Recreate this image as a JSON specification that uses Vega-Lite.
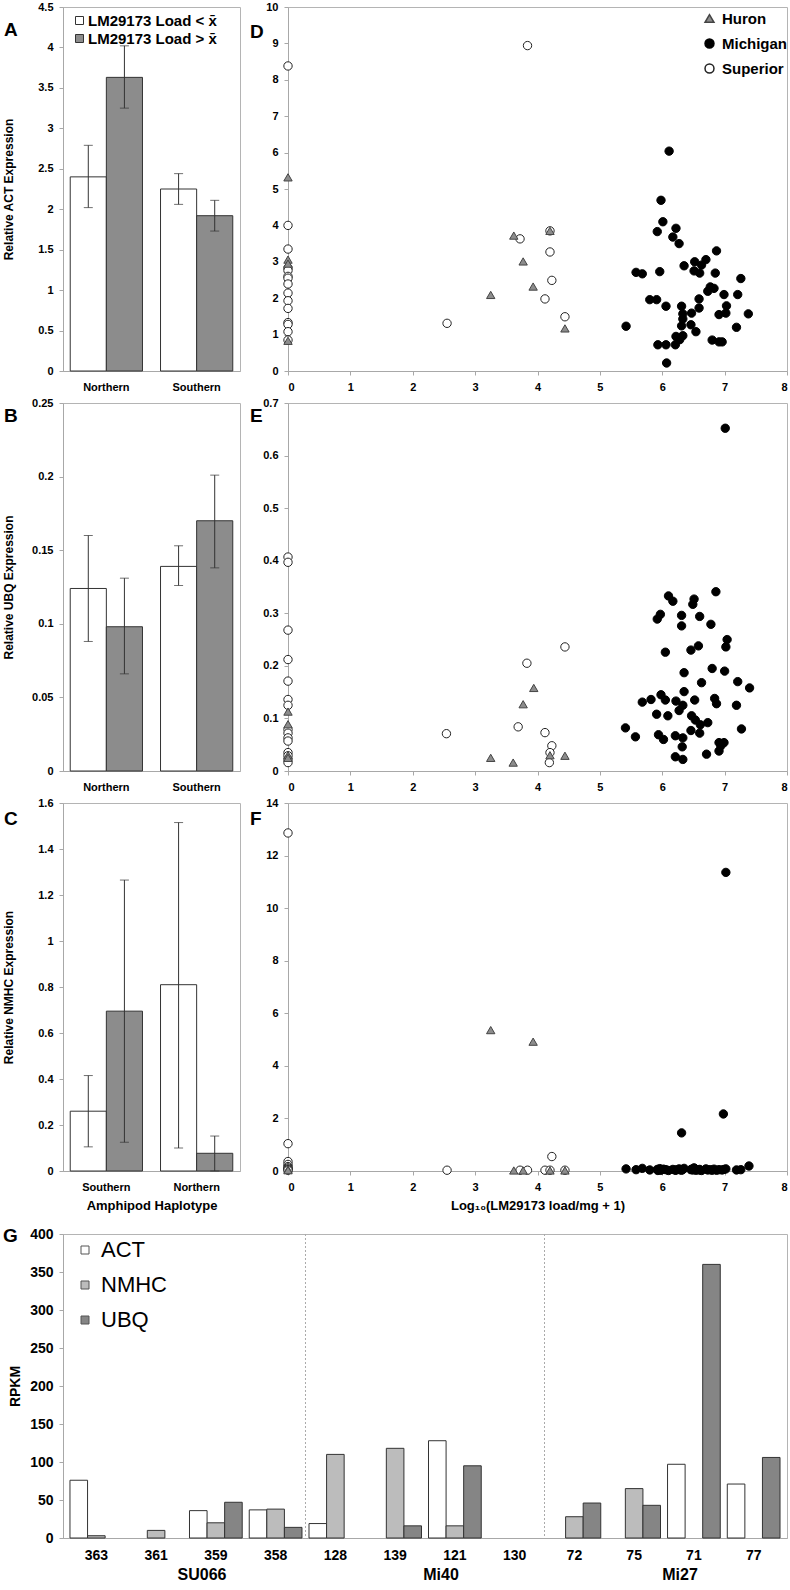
{
  "$schema": "https://vega.github.io/schema/vega-lite/v6.json",
  "background": "white",
  "padding": {"left": 2, "top": 0, "right": 0, "bottom": 0},
  "config": {
    "font": "Liberation Sans",
    "view": {"stroke": "#b4b4b4", "strokeWidth": 1},
    "axis": {"labelFont": "Liberation Sans", "labelFontWeight": "bold", "labelFontSize": 11, "labelColor": "#000", "domainColor": "#a8a8a8", "tickColor": "#a8a8a8", "tickSize": 4, "labelPadding": 6, "grid": false, "titleFont": "Liberation Sans", "titleFontWeight": "bold", "titleFontSize": 12, "titleColor": "#000"},
    "legend": {"labelFont": "Liberation Sans", "labelColor": "#000"},
    "title": {"anchor": "start", "frame": "group", "orient": "top", "offset": 0, "fontSize": 19, "fontWeight": "bold", "font": "Liberation Sans", "baseline": "alphabetic", "color": "#000"}
  },
  "datasets": {
    "bars": [
      {"panel": "A", "hap": "Northern", "load": "lt", "value": 2.40, "lo": 2.02, "hi": 2.79},
      {"panel": "A", "hap": "Northern", "load": "gt", "value": 3.63, "lo": 3.25, "hi": 4.02},
      {"panel": "A", "hap": "Southern", "load": "lt", "value": 2.25, "lo": 2.06, "hi": 2.44},
      {"panel": "A", "hap": "Southern", "load": "gt", "value": 1.92, "lo": 1.73, "hi": 2.11},
      {"panel": "B", "hap": "Northern", "load": "lt", "value": 0.124, "lo": 0.088, "hi": 0.160},
      {"panel": "B", "hap": "Northern", "load": "gt", "value": 0.098, "lo": 0.066, "hi": 0.131},
      {"panel": "B", "hap": "Southern", "load": "lt", "value": 0.139, "lo": 0.126, "hi": 0.153},
      {"panel": "B", "hap": "Southern", "load": "gt", "value": 0.170, "lo": 0.138, "hi": 0.201},
      {"panel": "C", "hap": "Southern", "load": "lt", "value": 0.26, "lo": 0.105, "hi": 0.415},
      {"panel": "C", "hap": "Southern", "load": "gt", "value": 0.695, "lo": 0.125, "hi": 1.265},
      {"panel": "C", "hap": "Northern", "load": "lt", "value": 0.81, "lo": 0.10, "hi": 1.515},
      {"panel": "C", "hap": "Northern", "load": "gt", "value": 0.077, "lo": 0.0, "hi": 0.152}
    ],
    "pts": [
      {"panel": "D", "lake": "Michigan", "x": 6.11, "y": 6.04}, {"panel": "D", "lake": "Michigan", "x": 5.98, "y": 4.69}, {"panel": "D", "lake": "Michigan", "x": 6.01, "y": 4.10}, {"panel": "D", "lake": "Michigan", "x": 5.92, "y": 3.83}, {"panel": "D", "lake": "Michigan", "x": 6.22, "y": 3.92}, {"panel": "D", "lake": "Michigan", "x": 6.17, "y": 3.68}, {"panel": "D", "lake": "Michigan", "x": 6.27, "y": 3.50}, {"panel": "D", "lake": "Michigan", "x": 6.87, "y": 3.30}, {"panel": "D", "lake": "Michigan", "x": 6.70, "y": 3.06}, {"panel": "D", "lake": "Michigan", "x": 6.52, "y": 3.00}, {"panel": "D", "lake": "Michigan", "x": 6.63, "y": 2.91}, {"panel": "D", "lake": "Michigan", "x": 6.35, "y": 2.89}, {"panel": "D", "lake": "Michigan", "x": 6.51, "y": 2.75}, {"panel": "D", "lake": "Michigan", "x": 6.60, "y": 2.69}, {"panel": "D", "lake": "Michigan", "x": 6.85, "y": 2.69}, {"panel": "D", "lake": "Michigan", "x": 5.58, "y": 2.71}, {"panel": "D", "lake": "Michigan", "x": 5.68, "y": 2.67}, {"panel": "D", "lake": "Michigan", "x": 5.96, "y": 2.73}, {"panel": "D", "lake": "Michigan", "x": 7.26, "y": 2.54}, {"panel": "D", "lake": "Michigan", "x": 6.77, "y": 2.31}, {"panel": "D", "lake": "Michigan", "x": 6.83, "y": 2.27}, {"panel": "D", "lake": "Michigan", "x": 6.73, "y": 2.19}, {"panel": "D", "lake": "Michigan", "x": 6.99, "y": 2.10}, {"panel": "D", "lake": "Michigan", "x": 7.21, "y": 2.10}, {"panel": "D", "lake": "Michigan", "x": 5.80, "y": 1.96}, {"panel": "D", "lake": "Michigan", "x": 5.91, "y": 1.96}, {"panel": "D", "lake": "Michigan", "x": 6.59, "y": 1.98}, {"panel": "D", "lake": "Michigan", "x": 6.06, "y": 1.78}, {"panel": "D", "lake": "Michigan", "x": 6.31, "y": 1.78}, {"panel": "D", "lake": "Michigan", "x": 7.03, "y": 1.79}, {"panel": "D", "lake": "Michigan", "x": 6.59, "y": 1.73}, {"panel": "D", "lake": "Michigan", "x": 6.47, "y": 1.59}, {"panel": "D", "lake": "Michigan", "x": 6.33, "y": 1.57}, {"panel": "D", "lake": "Michigan", "x": 7.38, "y": 1.57}, {"panel": "D", "lake": "Michigan", "x": 6.91, "y": 1.55}, {"panel": "D", "lake": "Michigan", "x": 7.02, "y": 1.59}, {"panel": "D", "lake": "Michigan", "x": 6.33, "y": 1.43}, {"panel": "D", "lake": "Michigan", "x": 5.42, "y": 1.23}, {"panel": "D", "lake": "Michigan", "x": 6.31, "y": 1.24}, {"panel": "D", "lake": "Michigan", "x": 6.46, "y": 1.27}, {"panel": "D", "lake": "Michigan", "x": 7.19, "y": 1.20}, {"panel": "D", "lake": "Michigan", "x": 6.54, "y": 1.08}, {"panel": "D", "lake": "Michigan", "x": 6.22, "y": 0.95}, {"panel": "D", "lake": "Michigan", "x": 6.33, "y": 0.97}, {"panel": "D", "lake": "Michigan", "x": 6.28, "y": 0.86}, {"panel": "D", "lake": "Michigan", "x": 6.80, "y": 0.85}, {"panel": "D", "lake": "Michigan", "x": 6.91, "y": 0.80}, {"panel": "D", "lake": "Michigan", "x": 6.96, "y": 0.80}, {"panel": "D", "lake": "Michigan", "x": 5.93, "y": 0.72}, {"panel": "D", "lake": "Michigan", "x": 6.06, "y": 0.72}, {"panel": "D", "lake": "Michigan", "x": 6.21, "y": 0.72}, {"panel": "D", "lake": "Michigan", "x": 6.07, "y": 0.22},
      {"panel": "D", "lake": "Superior", "x": 0, "y": 8.38}, {"panel": "D", "lake": "Superior", "x": 0, "y": 4.0}, {"panel": "D", "lake": "Superior", "x": 0, "y": 3.35}, {"panel": "D", "lake": "Superior", "x": 0, "y": 2.83}, {"panel": "D", "lake": "Superior", "x": 0, "y": 2.76}, {"panel": "D", "lake": "Superior", "x": 0, "y": 2.6}, {"panel": "D", "lake": "Superior", "x": 0, "y": 2.55}, {"panel": "D", "lake": "Superior", "x": 0, "y": 2.39}, {"panel": "D", "lake": "Superior", "x": 0, "y": 2.14}, {"panel": "D", "lake": "Superior", "x": 0, "y": 1.93}, {"panel": "D", "lake": "Superior", "x": 0, "y": 1.72}, {"panel": "D", "lake": "Superior", "x": 0, "y": 1.33}, {"panel": "D", "lake": "Superior", "x": 0, "y": 1.28}, {"panel": "D", "lake": "Superior", "x": 0, "y": 1.08}, {"panel": "D", "lake": "Superior", "x": 0, "y": 0.85},
      {"panel": "D", "lake": "Superior", "x": 2.55, "y": 1.31}, {"panel": "D", "lake": "Superior", "x": 3.84, "y": 8.94}, {"panel": "D", "lake": "Superior", "x": 3.72, "y": 3.63}, {"panel": "D", "lake": "Superior", "x": 4.2, "y": 3.85}, {"panel": "D", "lake": "Superior", "x": 4.2, "y": 3.27}, {"panel": "D", "lake": "Superior", "x": 4.23, "y": 2.49}, {"panel": "D", "lake": "Superior", "x": 4.12, "y": 1.98}, {"panel": "D", "lake": "Superior", "x": 4.44, "y": 1.49},
      {"panel": "D", "lake": "Huron", "x": 0, "y": 5.32}, {"panel": "D", "lake": "Huron", "x": 0, "y": 3.06}, {"panel": "D", "lake": "Huron", "x": 0, "y": 2.95}, {"panel": "D", "lake": "Huron", "x": 0, "y": 0.83}, {"panel": "D", "lake": "Huron", "x": 3.25, "y": 2.09}, {"panel": "D", "lake": "Huron", "x": 3.62, "y": 3.72}, {"panel": "D", "lake": "Huron", "x": 3.77, "y": 3.01}, {"panel": "D", "lake": "Huron", "x": 3.93, "y": 2.32}, {"panel": "D", "lake": "Huron", "x": 4.2, "y": 3.85}, {"panel": "D", "lake": "Huron", "x": 4.44, "y": 1.17},
      {"panel": "E", "lake": "Michigan", "x": 7.01, "y": 0.652}, {"panel": "E", "lake": "Michigan", "x": 6.86, "y": 0.341}, {"panel": "E", "lake": "Michigan", "x": 6.10, "y": 0.333}, {"panel": "E", "lake": "Michigan", "x": 6.17, "y": 0.323}, {"panel": "E", "lake": "Michigan", "x": 6.51, "y": 0.327}, {"panel": "E", "lake": "Michigan", "x": 6.49, "y": 0.317}, {"panel": "E", "lake": "Michigan", "x": 5.97, "y": 0.298}, {"panel": "E", "lake": "Michigan", "x": 5.92, "y": 0.289}, {"panel": "E", "lake": "Michigan", "x": 6.31, "y": 0.296}, {"panel": "E", "lake": "Michigan", "x": 6.60, "y": 0.294}, {"panel": "E", "lake": "Michigan", "x": 6.78, "y": 0.279}, {"panel": "E", "lake": "Michigan", "x": 6.31, "y": 0.276}, {"panel": "E", "lake": "Michigan", "x": 7.04, "y": 0.250}, {"panel": "E", "lake": "Michigan", "x": 7.02, "y": 0.236}, {"panel": "E", "lake": "Michigan", "x": 6.05, "y": 0.226}, {"panel": "E", "lake": "Michigan", "x": 6.46, "y": 0.230}, {"panel": "E", "lake": "Michigan", "x": 6.58, "y": 0.238}, {"panel": "E", "lake": "Michigan", "x": 6.80, "y": 0.195}, {"panel": "E", "lake": "Michigan", "x": 7.00, "y": 0.190}, {"panel": "E", "lake": "Michigan", "x": 6.35, "y": 0.187}, {"panel": "E", "lake": "Michigan", "x": 7.21, "y": 0.170}, {"panel": "E", "lake": "Michigan", "x": 6.63, "y": 0.168}, {"panel": "E", "lake": "Michigan", "x": 7.40, "y": 0.158}, {"panel": "E", "lake": "Michigan", "x": 6.35, "y": 0.151}, {"panel": "E", "lake": "Michigan", "x": 5.98, "y": 0.145}, {"panel": "E", "lake": "Michigan", "x": 6.05, "y": 0.135}, {"panel": "E", "lake": "Michigan", "x": 5.82, "y": 0.136}, {"panel": "E", "lake": "Michigan", "x": 5.68, "y": 0.131}, {"panel": "E", "lake": "Michigan", "x": 6.22, "y": 0.133}, {"panel": "E", "lake": "Michigan", "x": 6.33, "y": 0.125}, {"panel": "E", "lake": "Michigan", "x": 6.52, "y": 0.135}, {"panel": "E", "lake": "Michigan", "x": 6.84, "y": 0.138}, {"panel": "E", "lake": "Michigan", "x": 6.87, "y": 0.128}, {"panel": "E", "lake": "Michigan", "x": 7.19, "y": 0.125}, {"panel": "E", "lake": "Michigan", "x": 6.27, "y": 0.115}, {"panel": "E", "lake": "Michigan", "x": 5.91, "y": 0.108}, {"panel": "E", "lake": "Michigan", "x": 6.09, "y": 0.105}, {"panel": "E", "lake": "Michigan", "x": 6.47, "y": 0.105}, {"panel": "E", "lake": "Michigan", "x": 6.53, "y": 0.097}, {"panel": "E", "lake": "Michigan", "x": 6.61, "y": 0.088}, {"panel": "E", "lake": "Michigan", "x": 6.73, "y": 0.092}, {"panel": "E", "lake": "Michigan", "x": 7.27, "y": 0.080}, {"panel": "E", "lake": "Michigan", "x": 5.41, "y": 0.082}, {"panel": "E", "lake": "Michigan", "x": 5.57, "y": 0.065}, {"panel": "E", "lake": "Michigan", "x": 5.94, "y": 0.069}, {"panel": "E", "lake": "Michigan", "x": 6.02, "y": 0.060}, {"panel": "E", "lake": "Michigan", "x": 6.21, "y": 0.067}, {"panel": "E", "lake": "Michigan", "x": 6.33, "y": 0.063}, {"panel": "E", "lake": "Michigan", "x": 6.46, "y": 0.077}, {"panel": "E", "lake": "Michigan", "x": 6.60, "y": 0.072}, {"panel": "E", "lake": "Michigan", "x": 6.91, "y": 0.054}, {"panel": "E", "lake": "Michigan", "x": 6.99, "y": 0.054}, {"panel": "E", "lake": "Michigan", "x": 6.94, "y": 0.048}, {"panel": "E", "lake": "Michigan", "x": 6.91, "y": 0.038}, {"panel": "E", "lake": "Michigan", "x": 6.32, "y": 0.046}, {"panel": "E", "lake": "Michigan", "x": 6.71, "y": 0.032}, {"panel": "E", "lake": "Michigan", "x": 6.21, "y": 0.027}, {"panel": "E", "lake": "Michigan", "x": 6.33, "y": 0.022},
      {"panel": "E", "lake": "Superior", "x": 0, "y": 0.407}, {"panel": "E", "lake": "Superior", "x": 0, "y": 0.397}, {"panel": "E", "lake": "Superior", "x": 0, "y": 0.268}, {"panel": "E", "lake": "Superior", "x": 0, "y": 0.212}, {"panel": "E", "lake": "Superior", "x": 0, "y": 0.171}, {"panel": "E", "lake": "Superior", "x": 0, "y": 0.136}, {"panel": "E", "lake": "Superior", "x": 0, "y": 0.125}, {"panel": "E", "lake": "Superior", "x": 0, "y": 0.079}, {"panel": "E", "lake": "Superior", "x": 0, "y": 0.072}, {"panel": "E", "lake": "Superior", "x": 0, "y": 0.063}, {"panel": "E", "lake": "Superior", "x": 0, "y": 0.057}, {"panel": "E", "lake": "Superior", "x": 0, "y": 0.035}, {"panel": "E", "lake": "Superior", "x": 0, "y": 0.029}, {"panel": "E", "lake": "Superior", "x": 0, "y": 0.022}, {"panel": "E", "lake": "Superior", "x": 0, "y": 0.016},
      {"panel": "E", "lake": "Superior", "x": 2.54, "y": 0.071}, {"panel": "E", "lake": "Superior", "x": 3.69, "y": 0.084}, {"panel": "E", "lake": "Superior", "x": 3.83, "y": 0.205}, {"panel": "E", "lake": "Superior", "x": 4.44, "y": 0.236}, {"panel": "E", "lake": "Superior", "x": 4.12, "y": 0.073}, {"panel": "E", "lake": "Superior", "x": 4.23, "y": 0.048}, {"panel": "E", "lake": "Superior", "x": 4.20, "y": 0.035}, {"panel": "E", "lake": "Superior", "x": 4.19, "y": 0.016},
      {"panel": "E", "lake": "Huron", "x": 0, "y": 0.113}, {"panel": "E", "lake": "Huron", "x": 0, "y": 0.089}, {"panel": "E", "lake": "Huron", "x": 0, "y": 0.030}, {"panel": "E", "lake": "Huron", "x": 0, "y": 0.025}, {"panel": "E", "lake": "Huron", "x": 3.25, "y": 0.025}, {"panel": "E", "lake": "Huron", "x": 3.61, "y": 0.016}, {"panel": "E", "lake": "Huron", "x": 3.77, "y": 0.127}, {"panel": "E", "lake": "Huron", "x": 3.94, "y": 0.158}, {"panel": "E", "lake": "Huron", "x": 4.2, "y": 0.030}, {"panel": "E", "lake": "Huron", "x": 4.44, "y": 0.029},
      {"panel": "F", "lake": "Michigan", "x": 7.02, "y": 11.36}, {"panel": "F", "lake": "Michigan", "x": 6.98, "y": 2.17}, {"panel": "F", "lake": "Michigan", "x": 6.31, "y": 1.45}, {"panel": "F", "lake": "Michigan", "x": 5.42, "y": 0.08}, {"panel": "F", "lake": "Michigan", "x": 5.58, "y": 0.05}, {"panel": "F", "lake": "Michigan", "x": 5.68, "y": 0.1}, {"panel": "F", "lake": "Michigan", "x": 5.80, "y": 0.04}, {"panel": "F", "lake": "Michigan", "x": 5.92, "y": 0.06}, {"panel": "F", "lake": "Michigan", "x": 5.98, "y": 0.03}, {"panel": "F", "lake": "Michigan", "x": 6.02, "y": 0.07}, {"panel": "F", "lake": "Michigan", "x": 6.06, "y": 0.05}, {"panel": "F", "lake": "Michigan", "x": 6.10, "y": 0.02}, {"panel": "F", "lake": "Michigan", "x": 6.17, "y": 0.06}, {"panel": "F", "lake": "Michigan", "x": 6.22, "y": 0.04}, {"panel": "F", "lake": "Michigan", "x": 6.27, "y": 0.08}, {"panel": "F", "lake": "Michigan", "x": 6.31, "y": 0.03}, {"panel": "F", "lake": "Michigan", "x": 6.33, "y": 0.06}, {"panel": "F", "lake": "Michigan", "x": 6.35, "y": 0.1}, {"panel": "F", "lake": "Michigan", "x": 6.46, "y": 0.05}, {"panel": "F", "lake": "Michigan", "x": 6.49, "y": 0.04}, {"panel": "F", "lake": "Michigan", "x": 6.51, "y": 0.12}, {"panel": "F", "lake": "Michigan", "x": 6.54, "y": 0.03}, {"panel": "F", "lake": "Michigan", "x": 6.60, "y": 0.06}, {"panel": "F", "lake": "Michigan", "x": 6.63, "y": 0.02}, {"panel": "F", "lake": "Michigan", "x": 6.70, "y": 0.08}, {"panel": "F", "lake": "Michigan", "x": 6.73, "y": 0.04}, {"panel": "F", "lake": "Michigan", "x": 6.77, "y": 0.05}, {"panel": "F", "lake": "Michigan", "x": 6.83, "y": 0.07}, {"panel": "F", "lake": "Michigan", "x": 6.87, "y": 0.03}, {"panel": "F", "lake": "Michigan", "x": 6.91, "y": 0.05}, {"panel": "F", "lake": "Michigan", "x": 6.96, "y": 0.04}, {"panel": "F", "lake": "Michigan", "x": 7.02, "y": 0.08}, {"panel": "F", "lake": "Michigan", "x": 7.19, "y": 0.04}, {"panel": "F", "lake": "Michigan", "x": 7.26, "y": 0.05}, {"panel": "F", "lake": "Michigan", "x": 7.39, "y": 0.19}, {"panel": "F", "lake": "Michigan", "x": 5.93, "y": 0.02}, {"panel": "F", "lake": "Michigan", "x": 6.21, "y": 0.03}, {"panel": "F", "lake": "Michigan", "x": 6.59, "y": 0.04}, {"panel": "F", "lake": "Michigan", "x": 6.80, "y": 0.03}, {"panel": "F", "lake": "Michigan", "x": 6.99, "y": 0.06}, {"panel": "F", "lake": "Michigan", "x": 6.47, "y": 0.07}, {"panel": "F", "lake": "Michigan", "x": 6.28, "y": 0.05}, {"panel": "F", "lake": "Michigan", "x": 5.96, "y": 0.09},
      {"panel": "F", "lake": "Superior", "x": 0, "y": 12.86}, {"panel": "F", "lake": "Superior", "x": 0, "y": 1.04}, {"panel": "F", "lake": "Superior", "x": 0, "y": 0.36}, {"panel": "F", "lake": "Superior", "x": 0, "y": 0.25}, {"panel": "F", "lake": "Superior", "x": 0, "y": 0.17}, {"panel": "F", "lake": "Superior", "x": 0, "y": 0.12}, {"panel": "F", "lake": "Superior", "x": 0, "y": 0.08}, {"panel": "F", "lake": "Superior", "x": 0, "y": 0.05}, {"panel": "F", "lake": "Superior", "x": 0, "y": 0.03}, {"panel": "F", "lake": "Superior", "x": 2.55, "y": 0.03}, {"panel": "F", "lake": "Superior", "x": 3.72, "y": 0.03}, {"panel": "F", "lake": "Superior", "x": 3.84, "y": 0.03}, {"panel": "F", "lake": "Superior", "x": 4.12, "y": 0.03}, {"panel": "F", "lake": "Superior", "x": 4.2, "y": 0.03}, {"panel": "F", "lake": "Superior", "x": 4.23, "y": 0.55}, {"panel": "F", "lake": "Superior", "x": 4.44, "y": 0.03},
      {"panel": "F", "lake": "Huron", "x": 0, "y": 0.06}, {"panel": "F", "lake": "Huron", "x": 0, "y": 0.03}, {"panel": "F", "lake": "Huron", "x": 3.25, "y": 5.36}, {"panel": "F", "lake": "Huron", "x": 3.62, "y": 0.02}, {"panel": "F", "lake": "Huron", "x": 3.77, "y": 0.02}, {"panel": "F", "lake": "Huron", "x": 3.93, "y": 4.92}, {"panel": "F", "lake": "Huron", "x": 4.2, "y": 0.02}, {"panel": "F", "lake": "Huron", "x": 4.44, "y": 0.02}
    ],
    "rpkm": [
      {"sample": "363", "gene": "ACT", "value": 76}, {"sample": "363", "gene": "NMHC", "value": 3}, {"sample": "363", "gene": "UBQ", "value": 0},
      {"sample": "361", "gene": "ACT", "value": 0}, {"sample": "361", "gene": "NMHC", "value": 10}, {"sample": "361", "gene": "UBQ", "value": 0},
      {"sample": "359", "gene": "ACT", "value": 36}, {"sample": "359", "gene": "NMHC", "value": 20}, {"sample": "359", "gene": "UBQ", "value": 47},
      {"sample": "358", "gene": "ACT", "value": 37}, {"sample": "358", "gene": "NMHC", "value": 38}, {"sample": "358", "gene": "UBQ", "value": 14},
      {"sample": "128", "gene": "ACT", "value": 19}, {"sample": "128", "gene": "NMHC", "value": 110}, {"sample": "128", "gene": "UBQ", "value": 0},
      {"sample": "139", "gene": "ACT", "value": 0}, {"sample": "139", "gene": "NMHC", "value": 118}, {"sample": "139", "gene": "UBQ", "value": 16},
      {"sample": "121", "gene": "ACT", "value": 128}, {"sample": "121", "gene": "NMHC", "value": 16}, {"sample": "121", "gene": "UBQ", "value": 95},
      {"sample": "130", "gene": "ACT", "value": 0}, {"sample": "130", "gene": "NMHC", "value": 0}, {"sample": "130", "gene": "UBQ", "value": 0},
      {"sample": "72", "gene": "ACT", "value": 0}, {"sample": "72", "gene": "NMHC", "value": 28}, {"sample": "72", "gene": "UBQ", "value": 46},
      {"sample": "75", "gene": "ACT", "value": 0}, {"sample": "75", "gene": "NMHC", "value": 65}, {"sample": "75", "gene": "UBQ", "value": 43},
      {"sample": "71", "gene": "ACT", "value": 97}, {"sample": "71", "gene": "NMHC", "value": 0}, {"sample": "71", "gene": "UBQ", "value": 360},
      {"sample": "77", "gene": "ACT", "value": 71}, {"sample": "77", "gene": "NMHC", "value": 0}, {"sample": "77", "gene": "UBQ", "value": 106}
    ],
    "sites": [{"site": "Mi40"}, {"site": "Mi27"}]
  },
  "spacing": 13,
  "resolve": {"scale": {"fill": "independent", "stroke": "independent", "shape": "independent", "xOffset": "independent"}, "legend": {"fill": "independent", "stroke": "independent", "shape": "independent"}},
  "vconcat": [
    {
      "spacing": 3,
      "resolve": {"scale": {"fill": "independent", "stroke": "independent", "shape": "independent", "xOffset": "independent"}, "legend": {"fill": "independent", "stroke": "independent", "shape": "independent"}},
      "vconcat": [
        {
          "bounds": "flush",
          "spacing": 48,
          "resolve": {"scale": {"fill": "independent", "stroke": "independent", "shape": "independent", "xOffset": "independent"}, "legend": {"fill": "independent", "stroke": "independent", "shape": "independent"}},
          "hconcat": [
            {
              "width": 177, "height": 364,
              "title": {"text": "A", "dx": -59, "dy": 43},
              "data": {"name": "bars"},
              "transform": [{"filter": "datum.panel === 'A'"}],
              "encoding": {
                "x": {"field": "hap", "type": "nominal", "sort": ["Northern", "Southern"], "scale": {"paddingInner": 0.2, "paddingOuter": 0.08}, "axis": {"title": null, "labelAngle": 0, "ticks": false, "labelPadding": 10}},
                "xOffset": {"field": "load", "type": "nominal", "sort": ["lt", "gt"], "scale": {"paddingInner": 0, "paddingOuter": 0}}
              },
              "layer": [
                {
                  "mark": {"type": "bar", "stroke": "#333", "strokeWidth": 1},
                  "encoding": {
                    "y": {"field": "value", "type": "quantitative", "title": "Relative ACT Expression", "scale": {"domain": [0, 4.5], "nice": false}, "axis": {"values": [0, 0.5, 1, 1.5, 2, 2.5, 3, 3.5, 4, 4.5], "format": "~g", "titlePadding": 22}},
                    "fill": {"field": "load", "type": "nominal", "scale": {"domain": ["lt", "gt"], "range": ["#ffffff", "#8c8c8c"]}, "legend": {"title": null, "orient": "none", "legendX": 9, "legendY": 6, "symbolType": "square", "symbolSize": 64, "symbolStrokeColor": "#333", "symbolStrokeWidth": 1, "labelFontSize": 15, "labelFontWeight": "bold", "rowPadding": 2, "labelOffset": 1, "padding": 0, "labelExpr": "datum.label === 'lt' ? 'LM29173 Load <  x\u0304' : 'LM29173 Load > x\u0304'"}}
                  }
                },
                {"mark": {"type": "rule", "color": "#333", "strokeWidth": 1}, "encoding": {"y": {"field": "lo", "type": "quantitative", "title": "Relative ACT Expression"}, "y2": {"field": "hi"}}},
                {"mark": {"type": "tick", "color": "#333", "size": 9, "thickness": 1}, "encoding": {"y": {"field": "lo", "type": "quantitative", "title": "Relative ACT Expression"}}},
                {"mark": {"type": "tick", "color": "#333", "size": 9, "thickness": 1}, "encoding": {"y": {"field": "hi", "type": "quantitative", "title": "Relative ACT Expression"}}}
              ]
            },
            {
              "width": 499, "height": 364,
              "title": {"text": "D", "dx": -38, "dy": 45},
              "data": {"name": "pts"},
              "transform": [{"filter": "datum.panel === 'D'"}],
              "mark": {"type": "point", "filled": true, "size": 70, "strokeWidth": 1, "opacity": 1},
              "encoding": {
                "x": {"field": "x", "type": "quantitative", "scale": {"domain": [0, 8], "nice": false}, "axis": {"values": [0, 1, 2, 3, 4, 5, 6, 7, 8], "title": null}},
                "y": {"field": "y", "type": "quantitative", "scale": {"domain": [0, 10], "nice": false}, "axis": {"values": [0, 1, 2, 3, 4, 5, 6, 7, 8, 9, 10], "title": null}},
                "shape": {"field": "lake", "type": "nominal", "scale": {"domain": ["Huron", "Michigan", "Superior"], "range": ["triangle-up", "circle", "circle"]}, "legend": {"title": null, "orient": "none", "legendX": 414, "legendY": 4, "labelFontSize": 15, "labelFontWeight": "bold", "symbolSize": 80, "rowPadding": 9, "labelOffset": 5, "padding": 0}},
                "fill": {"field": "lake", "type": "nominal", "scale": {"domain": ["Huron", "Michigan", "Superior"], "range": ["#8c8c8c", "#000000", "#ffffff"]}, "legend": {"title": null, "orient": "none", "legendX": 414, "legendY": 4, "labelFontSize": 15, "labelFontWeight": "bold", "symbolSize": 80, "rowPadding": 9, "labelOffset": 5, "padding": 0}},
                "stroke": {"field": "lake", "type": "nominal", "scale": {"domain": ["Huron", "Michigan", "Superior"], "range": ["#444444", "#000000", "#222222"]}, "legend": {"title": null, "orient": "none", "legendX": 414, "legendY": 4, "labelFontSize": 15, "labelFontWeight": "bold", "symbolSize": 80, "rowPadding": 9, "labelOffset": 5, "padding": 0}}
              }
            }
          ]
        },
        {
          "bounds": "flush",
          "spacing": 48,
          "resolve": {"scale": {"fill": "independent", "stroke": "independent", "shape": "independent", "xOffset": "independent"}, "legend": {"fill": "independent", "stroke": "independent", "shape": "independent"}},
          "hconcat": [
            {
              "width": 177, "height": 368,
              "title": {"text": "B", "dx": -59, "dy": 33},
              "data": {"name": "bars"},
              "transform": [{"filter": "datum.panel === 'B'"}],
              "encoding": {
                "x": {"field": "hap", "type": "nominal", "sort": ["Northern", "Southern"], "scale": {"paddingInner": 0.2, "paddingOuter": 0.08}, "axis": {"title": null, "labelAngle": 0, "ticks": false, "labelPadding": 10}},
                "xOffset": {"field": "load", "type": "nominal", "sort": ["lt", "gt"], "scale": {"paddingInner": 0, "paddingOuter": 0}}
              },
              "layer": [
                {
                  "mark": {"type": "bar", "stroke": "#333", "strokeWidth": 1},
                  "encoding": {
                    "y": {"field": "value", "type": "quantitative", "title": "Relative UBQ Expression", "scale": {"domain": [0, 0.25], "nice": false}, "axis": {"values": [0, 0.05, 0.1, 0.15, 0.2, 0.25], "format": "~g", "titlePadding": 16}},
                    "fill": {"field": "load", "type": "nominal", "scale": {"domain": ["lt", "gt"], "range": ["#ffffff", "#8c8c8c"]}, "legend": null}
                  }
                },
                {"mark": {"type": "rule", "color": "#333", "strokeWidth": 1}, "encoding": {"y": {"field": "lo", "type": "quantitative", "title": "Relative UBQ Expression"}, "y2": {"field": "hi"}}},
                {"mark": {"type": "tick", "color": "#333", "size": 9, "thickness": 1}, "encoding": {"y": {"field": "lo", "type": "quantitative", "title": "Relative UBQ Expression"}}},
                {"mark": {"type": "tick", "color": "#333", "size": 9, "thickness": 1}, "encoding": {"y": {"field": "hi", "type": "quantitative", "title": "Relative UBQ Expression"}}}
              ]
            },
            {
              "width": 499, "height": 368,
              "title": {"text": "E", "dx": -38, "dy": 33},
              "data": {"name": "pts"},
              "transform": [{"filter": "datum.panel === 'E'"}],
              "mark": {"type": "point", "filled": true, "size": 70, "strokeWidth": 1, "opacity": 1},
              "encoding": {
                "x": {"field": "x", "type": "quantitative", "scale": {"domain": [0, 8], "nice": false}, "axis": {"values": [0, 1, 2, 3, 4, 5, 6, 7, 8], "title": null}},
                "y": {"field": "y", "type": "quantitative", "scale": {"domain": [0, 0.7], "nice": false}, "axis": {"values": [0, 0.1, 0.2, 0.3, 0.4, 0.5, 0.6, 0.7], "format": "~g", "title": null}},
                "shape": {"field": "lake", "type": "nominal", "scale": {"domain": ["Huron", "Michigan", "Superior"], "range": ["triangle-up", "circle", "circle"]}, "legend": null},
                "fill": {"field": "lake", "type": "nominal", "scale": {"domain": ["Huron", "Michigan", "Superior"], "range": ["#8c8c8c", "#000000", "#ffffff"]}, "legend": null},
                "stroke": {"field": "lake", "type": "nominal", "scale": {"domain": ["Huron", "Michigan", "Superior"], "range": ["#444444", "#000000", "#222222"]}, "legend": null}
              }
            }
          ]
        },
        {
          "bounds": "flush",
          "spacing": 48,
          "resolve": {"scale": {"fill": "independent", "stroke": "independent", "shape": "independent", "xOffset": "independent"}, "legend": {"fill": "independent", "stroke": "independent", "shape": "independent"}},
          "hconcat": [
            {
              "width": 177, "height": 368,
              "title": {"text": "C", "dx": -59, "dy": 36},
              "data": {"name": "bars"},
              "transform": [{"filter": "datum.panel === 'C'"}],
              "encoding": {
                "x": {"field": "hap", "type": "nominal", "sort": ["Southern", "Northern"], "scale": {"paddingInner": 0.2, "paddingOuter": 0.08}, "axis": {"title": "Amphipod Haplotype", "titleFontSize": 13, "titlePadding": 7, "labelAngle": 0, "ticks": false, "labelPadding": 10}},
                "xOffset": {"field": "load", "type": "nominal", "sort": ["lt", "gt"], "scale": {"paddingInner": 0, "paddingOuter": 0}}
              },
              "layer": [
                {
                  "mark": {"type": "bar", "stroke": "#333", "strokeWidth": 1},
                  "encoding": {
                    "y": {"field": "value", "type": "quantitative", "title": "Relative NMHC Expression", "scale": {"domain": [0, 1.6], "nice": false}, "axis": {"values": [0, 0.2, 0.4, 0.6, 0.8, 1, 1.2, 1.4, 1.6], "format": "~g", "titlePadding": 22}},
                    "fill": {"field": "load", "type": "nominal", "scale": {"domain": ["lt", "gt"], "range": ["#ffffff", "#8c8c8c"]}, "legend": null}
                  }
                },
                {"mark": {"type": "rule", "color": "#333", "strokeWidth": 1}, "encoding": {"y": {"field": "lo", "type": "quantitative", "title": "Relative NMHC Expression"}, "y2": {"field": "hi"}}},
                {"mark": {"type": "tick", "color": "#333", "size": 9, "thickness": 1}, "encoding": {"y": {"field": "lo", "type": "quantitative", "title": "Relative NMHC Expression"}}},
                {"mark": {"type": "tick", "color": "#333", "size": 9, "thickness": 1}, "encoding": {"y": {"field": "hi", "type": "quantitative", "title": "Relative NMHC Expression"}}}
              ]
            },
            {
              "width": 499, "height": 368,
              "title": {"text": "F", "dx": -38, "dy": 36},
              "data": {"name": "pts"},
              "transform": [{"filter": "datum.panel === 'F'"}],
              "mark": {"type": "point", "filled": true, "size": 70, "strokeWidth": 1, "opacity": 1},
              "encoding": {
                "x": {"field": "x", "type": "quantitative", "scale": {"domain": [0, 8], "nice": false}, "axis": {"values": [0, 1, 2, 3, 4, 5, 6, 7, 8], "title": "Log\u2081\u2080(LM29173 load/mg + 1)", "titleFontSize": 13, "titlePadding": 7}},
                "y": {"field": "y", "type": "quantitative", "scale": {"domain": [0, 14], "nice": false}, "axis": {"values": [0, 2, 4, 6, 8, 10, 12, 14], "title": null}},
                "shape": {"field": "lake", "type": "nominal", "scale": {"domain": ["Huron", "Michigan", "Superior"], "range": ["triangle-up", "circle", "circle"]}, "legend": null},
                "fill": {"field": "lake", "type": "nominal", "scale": {"domain": ["Huron", "Michigan", "Superior"], "range": ["#8c8c8c", "#000000", "#ffffff"]}, "legend": null},
                "stroke": {"field": "lake", "type": "nominal", "scale": {"domain": ["Huron", "Michigan", "Superior"], "range": ["#444444", "#000000", "#222222"]}, "legend": null}
              }
            }
          ]
        }
      ]
    },
    {
      "width": 724, "height": 304,
      "title": {"text": "G", "dx": -60, "dy": 23},
      "layer": [
        {
          "data": {"name": "rpkm"},
          "transform": [{"filter": "datum.value > 0"}],
          "mark": {"type": "bar", "stroke": "#333", "strokeWidth": 1},
          "encoding": {
            "x": {"field": "sample", "type": "nominal", "sort": ["363", "361", "359", "358", "128", "139", "121", "130", "72", "75", "71", "77"], "scale": {"domain": ["363", "361", "359", "358", "128", "139", "121", "130", "72", "75", "71", "77"], "paddingInner": 0, "paddingOuter": 0.058}, "axis": {"title": null, "labelAngle": 0, "ticks": false, "labelFontSize": 14, "labelPadding": 10}},
            "xOffset": {"field": "gene", "type": "nominal", "sort": ["ACT", "NMHC", "UBQ"], "scale": {"domain": ["ACT", "NMHC", "UBQ"], "paddingInner": 0, "paddingOuter": 0.2}},
            "y": {"field": "value", "type": "quantitative", "scale": {"domain": [0, 400], "nice": false}, "axis": {"values": [0, 50, 100, 150, 200, 250, 300, 350, 400], "title": "RPKM", "labelFontSize": 14, "titleFontSize": 14, "titlePadding": 7}},
            "fill": {"field": "gene", "type": "nominal", "scale": {"domain": ["ACT", "NMHC", "UBQ"], "range": ["#ffffff", "#bcbcbc", "#858585"]}, "legend": {"title": null, "orient": "none", "legendX": 11, "legendY": 5, "symbolType": "square", "symbolSize": 64, "symbolStrokeColor": "#555", "symbolStrokeWidth": 1, "labelFontSize": 22, "labelFontWeight": "normal", "rowPadding": 13, "labelOffset": 5, "padding": 0}}
          }
        },
        {
          "data": {"name": "sites"},
          "mark": {"type": "rule", "strokeDash": [2, 2], "color": "#aaaaaa", "strokeWidth": 1},
          "encoding": {
            "x": {"field": "site", "type": "nominal", "bandPosition": 0, "scale": {"domain": ["SU066", "Mi40", "Mi27"], "paddingInner": 0, "paddingOuter": 0.0146}, "axis": {"orient": "bottom", "title": null, "labelAngle": 0, "ticks": false, "domain": false, "labelFontSize": 16, "offset": 22, "labelPadding": 6, "labelOffset": 16}}
          }
        }
      ],
      "resolve": {"scale": {"x": "independent"}, "axis": {"x": "independent"}}
    }
  ]
}
